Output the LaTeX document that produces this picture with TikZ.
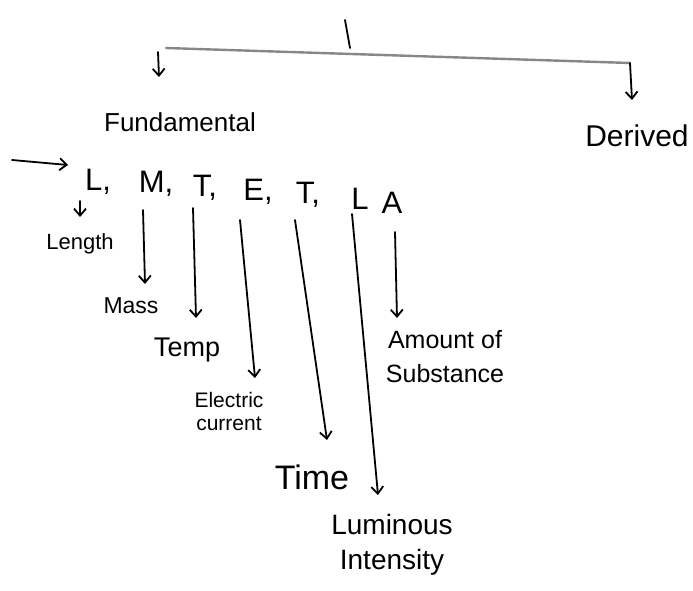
\documentclass[tikz,border=0pt]{standalone}
\usepackage{fontspec}
\setmainfont{Liberation Sans}
\usetikzlibrary{arrows.meta}
\tikzset{
  pen/.style={line width=1.8pt, draw=black, line cap=round},
  arr/.style={pen, -{Straight Barb[length=7pt,width=12pt]}},
  lbl/.style={inner sep=1pt, align=center},
  letter/.style={font=\fontsize{31}{33}\selectfont, inner sep=1pt},
}
\begin{document}
\begin{tikzpicture}[x=1pt,y=-1pt]
\useasboundingbox[fill=white] (0,0) rectangle (693,591);
% top stem and bar
\coordinate (top) at (345,20);
\coordinate (junc) at (350,48);
\coordinate (bl) at (166,48);
\coordinate (br) at (630,63);
\draw[pen] (top) -- (junc);
\draw[line width=2.4pt, draw={rgb,255:red,135;green,135;blue,135}, line cap=round] (bl) -- (br);
% categories
\node[lbl, font=\fontsize{26}{28}\selectfont] (fund) at (180,122) {Fundamental};
\node[lbl, font=\fontsize{30}{32}\selectfont] (der) at (637,136) {Derived};
\coordinate (fa) at (158,52); \coordinate (fb) at (159,77);
\coordinate (da) at (630,63); \coordinate (db) at (632,100);
\draw[arr] (fa) -- (fb);
\draw[arr] (da) -- (db);
% letter row
\coordinate (rowstart) at (12,160);
\coordinate (rowend) at (68,165);
\node[letter] (L1) at (98,182) {L,};
\node[letter] (M) at (156,184) {M,};
\node[letter] (T1) at (205,188) {T,};
\node[letter] (E) at (258,192) {E,};
\node[letter] (T2) at (308,195) {T,};
\node[letter] (L2) at (360,199) {L};
\node[letter] (A) at (392,203) {A};
\draw[arr] (rowstart) -- (rowend);
% labels
\node[lbl, font=\fontsize{22}{24}\selectfont] (len) at (80,244) {Length};
\node[lbl, font=\fontsize{23}{25}\selectfont] (mass) at (131,306) {Mass};
\node[lbl, font=\fontsize{27}{29}\selectfont] (temp) at (187,350) {Temp};
\node[lbl, font=\fontsize{21}{23}\selectfont] (ec) at (229,411) {Electric\\current};
\node[lbl, font=\fontsize{34}{36}\selectfont] (time) at (312,477) {Time};
\node[lbl, font=\fontsize{28}{35}\selectfont] (lum) at (392,545) {Luminous\\Intensity};
\node[lbl, font=\fontsize{25}{34}\selectfont] (amt) at (445,357) {Amount of\\Substance};
% arrows from letters to labels
\coordinate (l1a) at (80,201);  \coordinate (l1b) at (80,217);
\coordinate (ma) at (143,210);  \coordinate (mb) at (145,284);
\coordinate (t1a) at (193,208); \coordinate (t1b) at (196,318);
\coordinate (ea) at (240,220);  \coordinate (eb) at (255,378);
\coordinate (t2a) at (295,220); \coordinate (t2b) at (327,440);
\coordinate (l2a) at (352,214); \coordinate (l2b) at (378,495);
\coordinate (aa) at (395,232);  \coordinate (ab) at (397,318);
\draw[arr] (l1a) -- (l1b);
\draw[arr] (ma) -- (mb);
\draw[arr] (t1a) -- (t1b);
\draw[arr] (ea) -- (eb);
\draw[arr] (t2a) -- (t2b);
\draw[arr] (l2a) -- (l2b);
\draw[arr] (aa) -- (ab);
\end{tikzpicture}
\end{document}
